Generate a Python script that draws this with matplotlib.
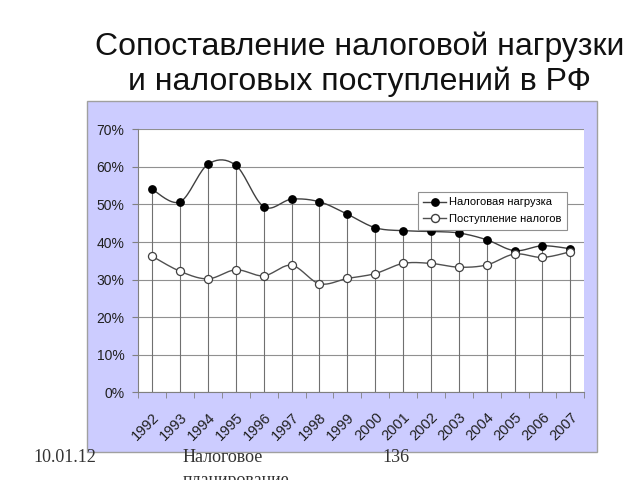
import numpy as np
import matplotlib
matplotlib.use("Agg")
import matplotlib.pyplot as plt
from matplotlib.patches import Rectangle
from matplotlib.lines import Line2D

years = ["1992", "1993", "1994", "1995", "1996", "1997", "1998", "1999",
         "2000", "2001", "2002", "2003", "2004", "2005", "2006", "2007"]
tax_burden = [54.0, 50.7, 60.7, 60.4, 49.4, 51.4, 50.7, 47.4,
              43.8, 43.0, 42.8, 42.4, 40.6, 37.7, 39.0, 38.2]
tax_revenue = [36.2, 32.2, 30.2, 32.6, 31.0, 33.8, 28.9, 30.3,
               31.6, 34.3, 34.3, 33.3, 33.9, 36.8, 35.9, 37.4]
yticks = [0, 10, 20, 30, 40, 50, 60, 70]
title = "Сопоставление налоговой нагрузки\nи налоговых поступлений в РФ"
label_burden = "Налоговая нагрузка"
label_revenue = "Поступление налогов"

plt.rcParams['font.family'] = ['Liberation Sans', 'DejaVu Sans']


def smooth(xs, ys, n=20):
    # Catmull-Rom style Bezier smoothing (similar to spreadsheet smoothed lines)
    xs = np.asarray(xs, float)
    ys = np.asarray(ys, float)
    px, py = [], []
    m = len(xs)
    for i in range(m - 1):
        x0, y0 = (xs[i - 1], ys[i - 1]) if i > 0 else (xs[i], ys[i])
        x1, y1 = xs[i], ys[i]
        x2, y2 = xs[i + 1], ys[i + 1]
        x3, y3 = (xs[i + 2], ys[i + 2]) if i + 2 < m else (xs[i + 1], ys[i + 1])
        c1x, c1y = x1 + (x2 - x0) / 6, y1 + (y2 - y0) / 6
        c2x, c2y = x2 - (x3 - x1) / 6, y2 - (y3 - y1) / 6
        t = np.linspace(0, 1, n)
        bx = (1 - t) ** 3 * x1 + 3 * (1 - t) ** 2 * t * c1x + 3 * (1 - t) * t ** 2 * c2x + t ** 3 * x2
        by = (1 - t) ** 3 * y1 + 3 * (1 - t) ** 2 * t * c1y + 3 * (1 - t) * t ** 2 * c2y + t ** 3 * y2
        px.extend(bx)
        py.extend(by)
    return np.array(px), np.array(py)


fig = plt.figure(figsize=(6.4, 4.8), dpi=100)
fig.patch.set_facecolor("white")

# lavender chart panel
fig.patches.append(Rectangle((87 / 640, 1 - 452 / 480), 510 / 640, 351 / 480,
                             transform=fig.transFigure, facecolor="#CCCCFF",
                             edgecolor="#A0A0A0", linewidth=1, zorder=-5))

ax = fig.add_axes([138.3 / 640, 1 - 392.3 / 480, 446 / 640, 263 / 480])
ax.set_facecolor("white")
x = np.arange(len(years))
ax.set_xlim(-0.5, len(years) - 0.5)
ax.set_ylim(0, 70)

for s in ["top", "right"]:
    ax.spines[s].set_visible(False)
ax.spines["left"].set_color("#808080")
ax.spines["bottom"].set_color("#808080")

ax.set_yticks(yticks)
ax.set_yticklabels([f"{v}%" for v in yticks], fontsize=10, color="#202020")
ax.yaxis.grid(True, color="#909090", linewidth=0.8)
ax.set_axisbelow(True)
ax.tick_params(axis="y", length=4, color="#808080", pad=6)

ax.set_xticks(x)
ax.set_xticklabels(years, rotation=45, ha="right", va="top",
                   rotation_mode="anchor", fontsize=10.5, color="#202020")
ax.tick_params(axis="x", length=0, pad=13)
ax.set_xticks(np.arange(len(years) + 1) - 0.5, minor=True)
ax.tick_params(axis="x", which="minor", length=4, color="#808080")

# drop lines
tops = np.maximum(tax_burden, tax_revenue)
ax.vlines(x, 0, tops, color="#707070", linewidth=0.8, zorder=1)

sx, sy = smooth(x, tax_burden)
ax.plot(sx, sy, color="#404040", linewidth=1.0, zorder=2)
ax.plot(x, tax_burden, linestyle="none", marker="o", markersize=5.3,
        markerfacecolor="black", markeredgecolor="black", zorder=3)

sx2, sy2 = smooth(x, tax_revenue)
ax.plot(sx2, sy2, color="#505050", linewidth=1.0, zorder=2)
ax.plot(x, tax_revenue, linestyle="none", marker="o", markersize=5.8,
        markerfacecolor="white", markeredgecolor="#404040", markeredgewidth=0.9,
        zorder=3)

handles = [
    Line2D([], [], color="#404040", linewidth=1, marker="o", markersize=5.3,
           markerfacecolor="black", markeredgecolor="black"),
    Line2D([], [], color="#505050", linewidth=1, marker="o", markersize=5.8,
           markerfacecolor="white", markeredgecolor="#404040"),
]
leg = ax.legend(handles, [label_burden, label_revenue], loc="upper left",
                bbox_to_anchor=(0.627, 0.762), fontsize=8, frameon=True,
                fancybox=False, framealpha=1, edgecolor="#909090",
                handlelength=2.0, handletextpad=0.3, borderpad=0.5,
                labelspacing=0.6, borderaxespad=0)
leg.get_frame().set_linewidth(0.8)

fig.text(0.5625, 1 - 64 / 480, title, ha="center", va="center",
         fontsize=23, color="#111111", linespacing=1.2)

serif = ['Liberation Serif', 'DejaVu Serif']
fig.text(33 / 640, 1 - 462 / 480, "10.01.12", ha="left", va="baseline",
         fontsize=13, family=serif, color="#333333")
fig.text(183 / 640, 1 - 462 / 480, "Налоговое", ha="left", va="baseline",
         fontsize=13, family=serif, color="#333333")
fig.text(183 / 640, 1 - 485 / 480, "планирование", ha="left", va="baseline",
         fontsize=13, family=serif, color="#333333")
fig.text(382 / 640, 1 - 462 / 480, "136", ha="left", va="baseline",
         fontsize=13, family=serif, color="#333333")

fig.savefig("out.png", dpi=100)
